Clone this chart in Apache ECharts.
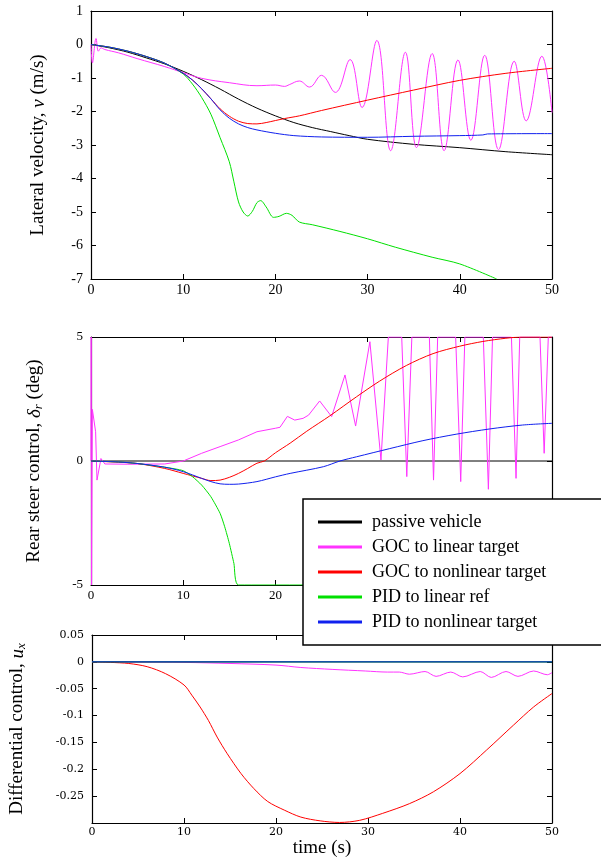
<!DOCTYPE html>
<html>
<head>
<meta charset="utf-8">
<script src="https://cdn.jsdelivr.net/npm/echarts@6/dist/echarts.min.js"></script>
<style>
  html, body { margin: 0; padding: 0; background: #fff; }
  #chart { width: 601px; height: 859px; }
</style>
</head>
<body>
<div id="chart"></div>
<script>
// series names (legend)
var names = ['passive vehicle', 'GOC to linear target', 'GOC to nonlinear target', 'PID to linear ref', 'PID to nonlinear target'];
var colors = ['#000000', '#ff33ff', '#ff0000', '#00e000', '#1020ee'];

// ---- lateral velocity v (m/s) ----
var tPassV = [0, 2, 4, 6, 8, 10, 12, 14, 16, 18, 20, 22, 24, 26, 28, 30, 35, 40, 45, 50];
var vPass = [0, -0.1, -0.23, -0.4, -0.58, -0.8, -1.05, -1.33, -1.63, -1.9, -2.13, -2.33, -2.48, -2.6, -2.72, -2.83, -2.98, -3.08, -3.2, -3.29];

var tGocLinV = [0, 0.15, 0.55, 0.8, 1.1, 1.5, 3, 5, 8, 10, 12, 15, 18, 20, 21, 21.5, 22.6, 23.7, 25.0, 26.5, 28.1, 29.4, 31.0, 32.5, 34.1, 35.3, 37.0, 38.3, 39.8, 41.2, 42.7, 44.2, 45.9, 47.2, 48.9, 50];
var vGocLin = [0, -0.55, 0.18, -0.2, -0.1, -0.15, -0.25, -0.42, -0.66, -0.84, -1.01, -1.14, -1.23, -1.21, -1.25, -1.2, -1.09, -1.27, -0.92, -1.43, -0.45, -1.88, 0.12, -3.17, -0.23, -3.08, -0.27, -3.17, -0.46, -2.86, -0.32, -3.14, -0.5, -2.28, -0.35, -2.03];

var tGocNlV = [0, 2, 4, 6, 8, 10, 11, 12, 13, 14, 15, 16, 17, 18, 19, 20, 21, 22.6, 25, 30, 35, 40, 45, 50];
var vGocNl = [0, -0.08, -0.2, -0.36, -0.56, -0.86, -1.06, -1.32, -1.62, -1.92, -2.14, -2.29, -2.36, -2.37, -2.33, -2.27, -2.21, -2.13, -1.97, -1.66, -1.36, -1.07, -0.86, -0.71];

var tPidLinV = [0, 2, 4, 6, 8, 10, 11, 12, 13, 14, 15, 15.5, 16, 16.5, 17, 17.5, 18, 18.4, 19, 19.8, 20.4, 21.2, 21.8, 22.6, 24, 27, 30, 33, 37, 40, 44];
var vPidLin = [0, -0.08, -0.2, -0.36, -0.56, -0.88, -1.18, -1.58, -2.08, -2.78, -3.5, -4.1, -4.7, -5.0, -5.12, -4.98, -4.72, -4.66, -4.85, -5.16, -5.13, -5.04, -5.1, -5.3, -5.38, -5.58, -5.8, -6.05, -6.35, -6.55, -7.0];

var tPidNlV = [0, 2, 4, 6, 8, 10, 11, 12, 13, 14, 15, 16, 17, 18, 20, 22, 25, 30, 35, 40, 42.5, 43, 50];
var vPidNl = [0, -0.08, -0.2, -0.36, -0.56, -0.86, -1.06, -1.32, -1.62, -1.95, -2.2, -2.37, -2.48, -2.55, -2.65, -2.72, -2.76, -2.77, -2.74, -2.72, -2.7, -2.67, -2.66];

// ---- rear steer control delta_r (deg) ----
var tPassD = [0, 50];
var dPass = [0, 0];

var tGocLinD = [0, 0.02, 0.06, 0.15, 0.35, 0.5, 0.65, 1.08, 1.5, 4, 8, 10, 12, 14, 16, 18, 20, 20.5, 21.3, 22.1, 23.0, 23.6, 24.8, 26.1, 27.55, 28.7, 30.25, 31.45, 32.25, 33.7, 34.25, 34.8, 36.7, 37.15, 37.6, 39.55, 40.1, 40.55, 42.55, 43.1, 43.55, 45.6, 46.1, 46.5, 48.7, 49.15, 49.6, 50];
var dGocLin = [0, 5, -5, 2.08, 2.05, 1.18, -0.77, 0.1, -0.12, -0.13, -0.12, 0, 0.31, 0.58, 0.85, 1.18, 1.32, 1.36, 1.8, 1.65, 1.72, 1.85, 2.42, 1.79, 3.47, 1.41, 4.81, 0.04, 5, 5, -0.63, 5, 5, -0.77, 5, 5, -0.83, 5, 5, -1.14, 5, 5, -0.7, 5, 5, 0.31, 5, 5];

var tGocNlD = [0, 3, 5, 8, 10, 12, 13, 14, 15, 16, 17, 18, 18.8, 20, 21.6, 23.4, 25.9, 28.8, 31.3, 34.2, 37.1, 40, 42.5, 45, 46.8, 50];
var dGocNl = [0, -0.05, -0.1, -0.3, -0.5, -0.7, -0.79, -0.77, -0.66, -0.5, -0.3, -0.09, 0, 0.33, 0.72, 1.2, 1.82, 2.59, 3.22, 3.85, 4.33, 4.63, 4.82, 4.95, 5, 5];

var tPidLinD = [0, 3, 5, 8, 10, 11, 12, 13, 14, 14.5, 15, 15.5, 16, 50];
var dPidLin = [0, -0.04, -0.1, -0.25, -0.39, -0.63, -0.97, -1.44, -2.11, -2.65, -3.32, -4.13, -5, -5];

var tPidNlD = [0, 3, 5, 8, 10, 12, 13, 14, 15, 16, 18, 20, 21.6, 25.2, 27.0, 28.8, 32.4, 36, 39.6, 43.2, 46.8, 50];
var dPidNl = [0, -0.04, -0.1, -0.25, -0.43, -0.7, -0.83, -0.92, -0.94, -0.93, -0.83, -0.64, -0.5, -0.23, 0, 0.17, 0.5, 0.82, 1.08, 1.29, 1.45, 1.52];

// ---- differential control u_x ----
var tZeroU = [0, 50];
var uZero = [0, 0];

var tGocLinU = [0, 5, 10, 15, 20, 22.7, 26.1, 29.7, 32.1, 33.4, 34.5, 36.2, 37.4, 39, 40.3, 42.2, 43.4, 45, 46.3, 48, 49.5, 50];
var uGocLin = [0, -0.0005, -0.001, -0.003, -0.006, -0.0105, -0.014, -0.017, -0.019, -0.019, -0.023, -0.018, -0.027, -0.019, -0.028, -0.018, -0.029, -0.018, -0.027, -0.017, -0.024, -0.02];

var tGocNlU = [0, 2, 4, 6, 8, 10, 10.85, 11.75, 12.65, 13.6, 14.7, 16.2, 17.6, 19.1, 20.9, 22.7, 24.8, 26.9, 29.1, 31.6, 34.5, 37.1, 40, 42.9, 45.8, 48, 50];
var uGocNl = [0, -0.001, -0.003, -0.009, -0.022, -0.043, -0.062, -0.084, -0.109, -0.14, -0.171, -0.208, -0.236, -0.26, -0.276, -0.289, -0.296, -0.299, -0.295, -0.282, -0.264, -0.242, -0.208, -0.164, -0.118, -0.084, -0.059];

function pairs(t, v) {
  return t.map(function (x, i) { return [x, v[i]]; });
}

var serif = 'Liberation Serif';
var grids = [
  { left: 91, right: 49, top: 11, height: 268 },
  { left: 91, right: 49, top: 337, height: 248 },
  { left: 91, right: 49, top: 635, height: 188 }
];

var xAxes = [], yAxes = [];
var yCfg = [
  { min: -7, max: 1, interval: 1, font: 14, labelFont: serif,
    name: '{n|Lateral velocity, }{i|v}{n| (m/s)}', gap: 43 },
  { min: -5, max: 5, interval: 5, font: 13, labelFont: serif,
    name: '{n|Rear steer control, }{i|δ}{s|r}{n| (deg)}', gap: 46 },
  { min: -0.3, max: 0.05, interval: 0.05, font: 11, labelFont: 'DejaVu Serif',
    name: '{n|Differential control, }{i|u}{s|x}', gap: 64 }
];
var rich = {
  n: { fontFamily: serif, fontSize: 19, color: '#000' },
  i: { fontFamily: serif, fontSize: 19, fontStyle: 'italic', color: '#000' },
  s: { fontFamily: serif, fontSize: 13, fontStyle: 'italic', color: '#000', verticalAlign: 'bottom', padding: [8, 0, 0, 0] }
};
var lineCommon = { show: true, onZero: false, lineStyle: { color: '#000', width: 1.2 } };
var tickCommon = { show: true, inside: true, length: 5, lineStyle: { color: '#000' } };

grids.forEach(function (g, k) {
  var c = yCfg[k];
  var bottomX = {
    type: 'value', gridIndex: k, min: 0, max: 50, interval: 10, position: 'bottom',
    axisLine: lineCommon, axisTick: tickCommon, splitLine: { show: false },
    axisLabel: { color: '#000', fontFamily: c.labelFont, fontSize: c.font, margin: 4 }
  };
  if (k === 2) {
    bottomX.name = 'time (s)';
    bottomX.nameLocation = 'middle';
    bottomX.nameGap = 15;
    bottomX.nameTextStyle = { fontFamily: serif, fontSize: 19, color: '#000' };
  }
  xAxes.push(bottomX);
  xAxes.push({
    type: 'value', gridIndex: k, min: 0, max: 50, interval: 10, position: 'top',
    axisLine: lineCommon, axisTick: tickCommon, axisLabel: { show: false }, splitLine: { show: false }
  });
  yAxes.push({
    type: 'value', gridIndex: k, min: c.min, max: c.max, interval: c.interval, position: 'left',
    axisLine: lineCommon, axisTick: tickCommon, splitLine: { show: false },
    axisLabel: { color: '#000', fontFamily: c.labelFont, fontSize: c.font, margin: 8,
      showMinLabel: k !== 2,
      formatter: function (v) { return String(Math.round(v * 100) / 100); } },
    name: c.name, nameLocation: 'middle', nameGap: c.gap, nameRotate: 90,
    nameTextStyle: { rich: rich }
  });
  yAxes.push({
    type: 'value', gridIndex: k, min: c.min, max: c.max, interval: c.interval, position: 'right',
    axisLine: lineCommon, axisTick: tickCommon, axisLabel: { show: false }, splitLine: { show: false }
  });
});

function line(name, k, t, v, smooth) {
  var idx = names.indexOf(name);
  return {
    name: name, type: 'line', xAxisIndex: 2 * k, yAxisIndex: 2 * k,
    data: pairs(t, v), symbol: 'none', smooth: smooth, clip: true,
    lineStyle: { color: colors[idx], width: 1 }, itemStyle: { color: colors[idx] }
  };
}

var series = [
  line(names[0], 0, tPassV, vPass, 0.3),
  line(names[1], 0, tGocLinV, vGocLin, 0.4),
  line(names[2], 0, tGocNlV, vGocNl, 0.3),
  line(names[3], 0, tPidLinV, vPidLin, 0.3),
  line(names[4], 0, tPidNlV, vPidNl, 0.3),

  line(names[0], 1, tPassD, dPass, false),
  line(names[1], 1, tGocLinD, dGocLin, false),
  line(names[2], 1, tGocNlD, dGocNl, 0.3),
  line(names[3], 1, tPidLinD, dPidLin, 0.2),
  line(names[4], 1, tPidNlD, dPidNl, 0.3),

  line(names[1], 2, tGocLinU, uGocLin, 0.3),
  line(names[2], 2, tGocNlU, uGocNl, 0.3),
  line(names[0], 2, tZeroU, uZero, false),
  line(names[3], 2, tZeroU, uZero, false),
  line(names[4], 2, tZeroU, uZero, false)
];

var chart = echarts.init(document.getElementById('chart'), null, { renderer: 'canvas' });
chart.setOption({
  animation: false,
  backgroundColor: '#fff',
  grid: grids,
  xAxis: xAxes,
  yAxis: yAxes,
  legend: {
    data: names,
    orient: 'vertical',
    left: 303, top: 499,
    padding: [13, 80, 13, 15],
    icon: 'rect',
    itemWidth: 44, itemHeight: 3, itemGap: 5,
    backgroundColor: '#fff',
    borderColor: '#000', borderWidth: 1.5,
    selectedMode: false,
    textStyle: { fontFamily: serif, fontSize: 18, color: '#000', lineHeight: 20, padding: [0, 0, 0, 5] }
  },
  series: series
});
</script>
</body>
</html>
